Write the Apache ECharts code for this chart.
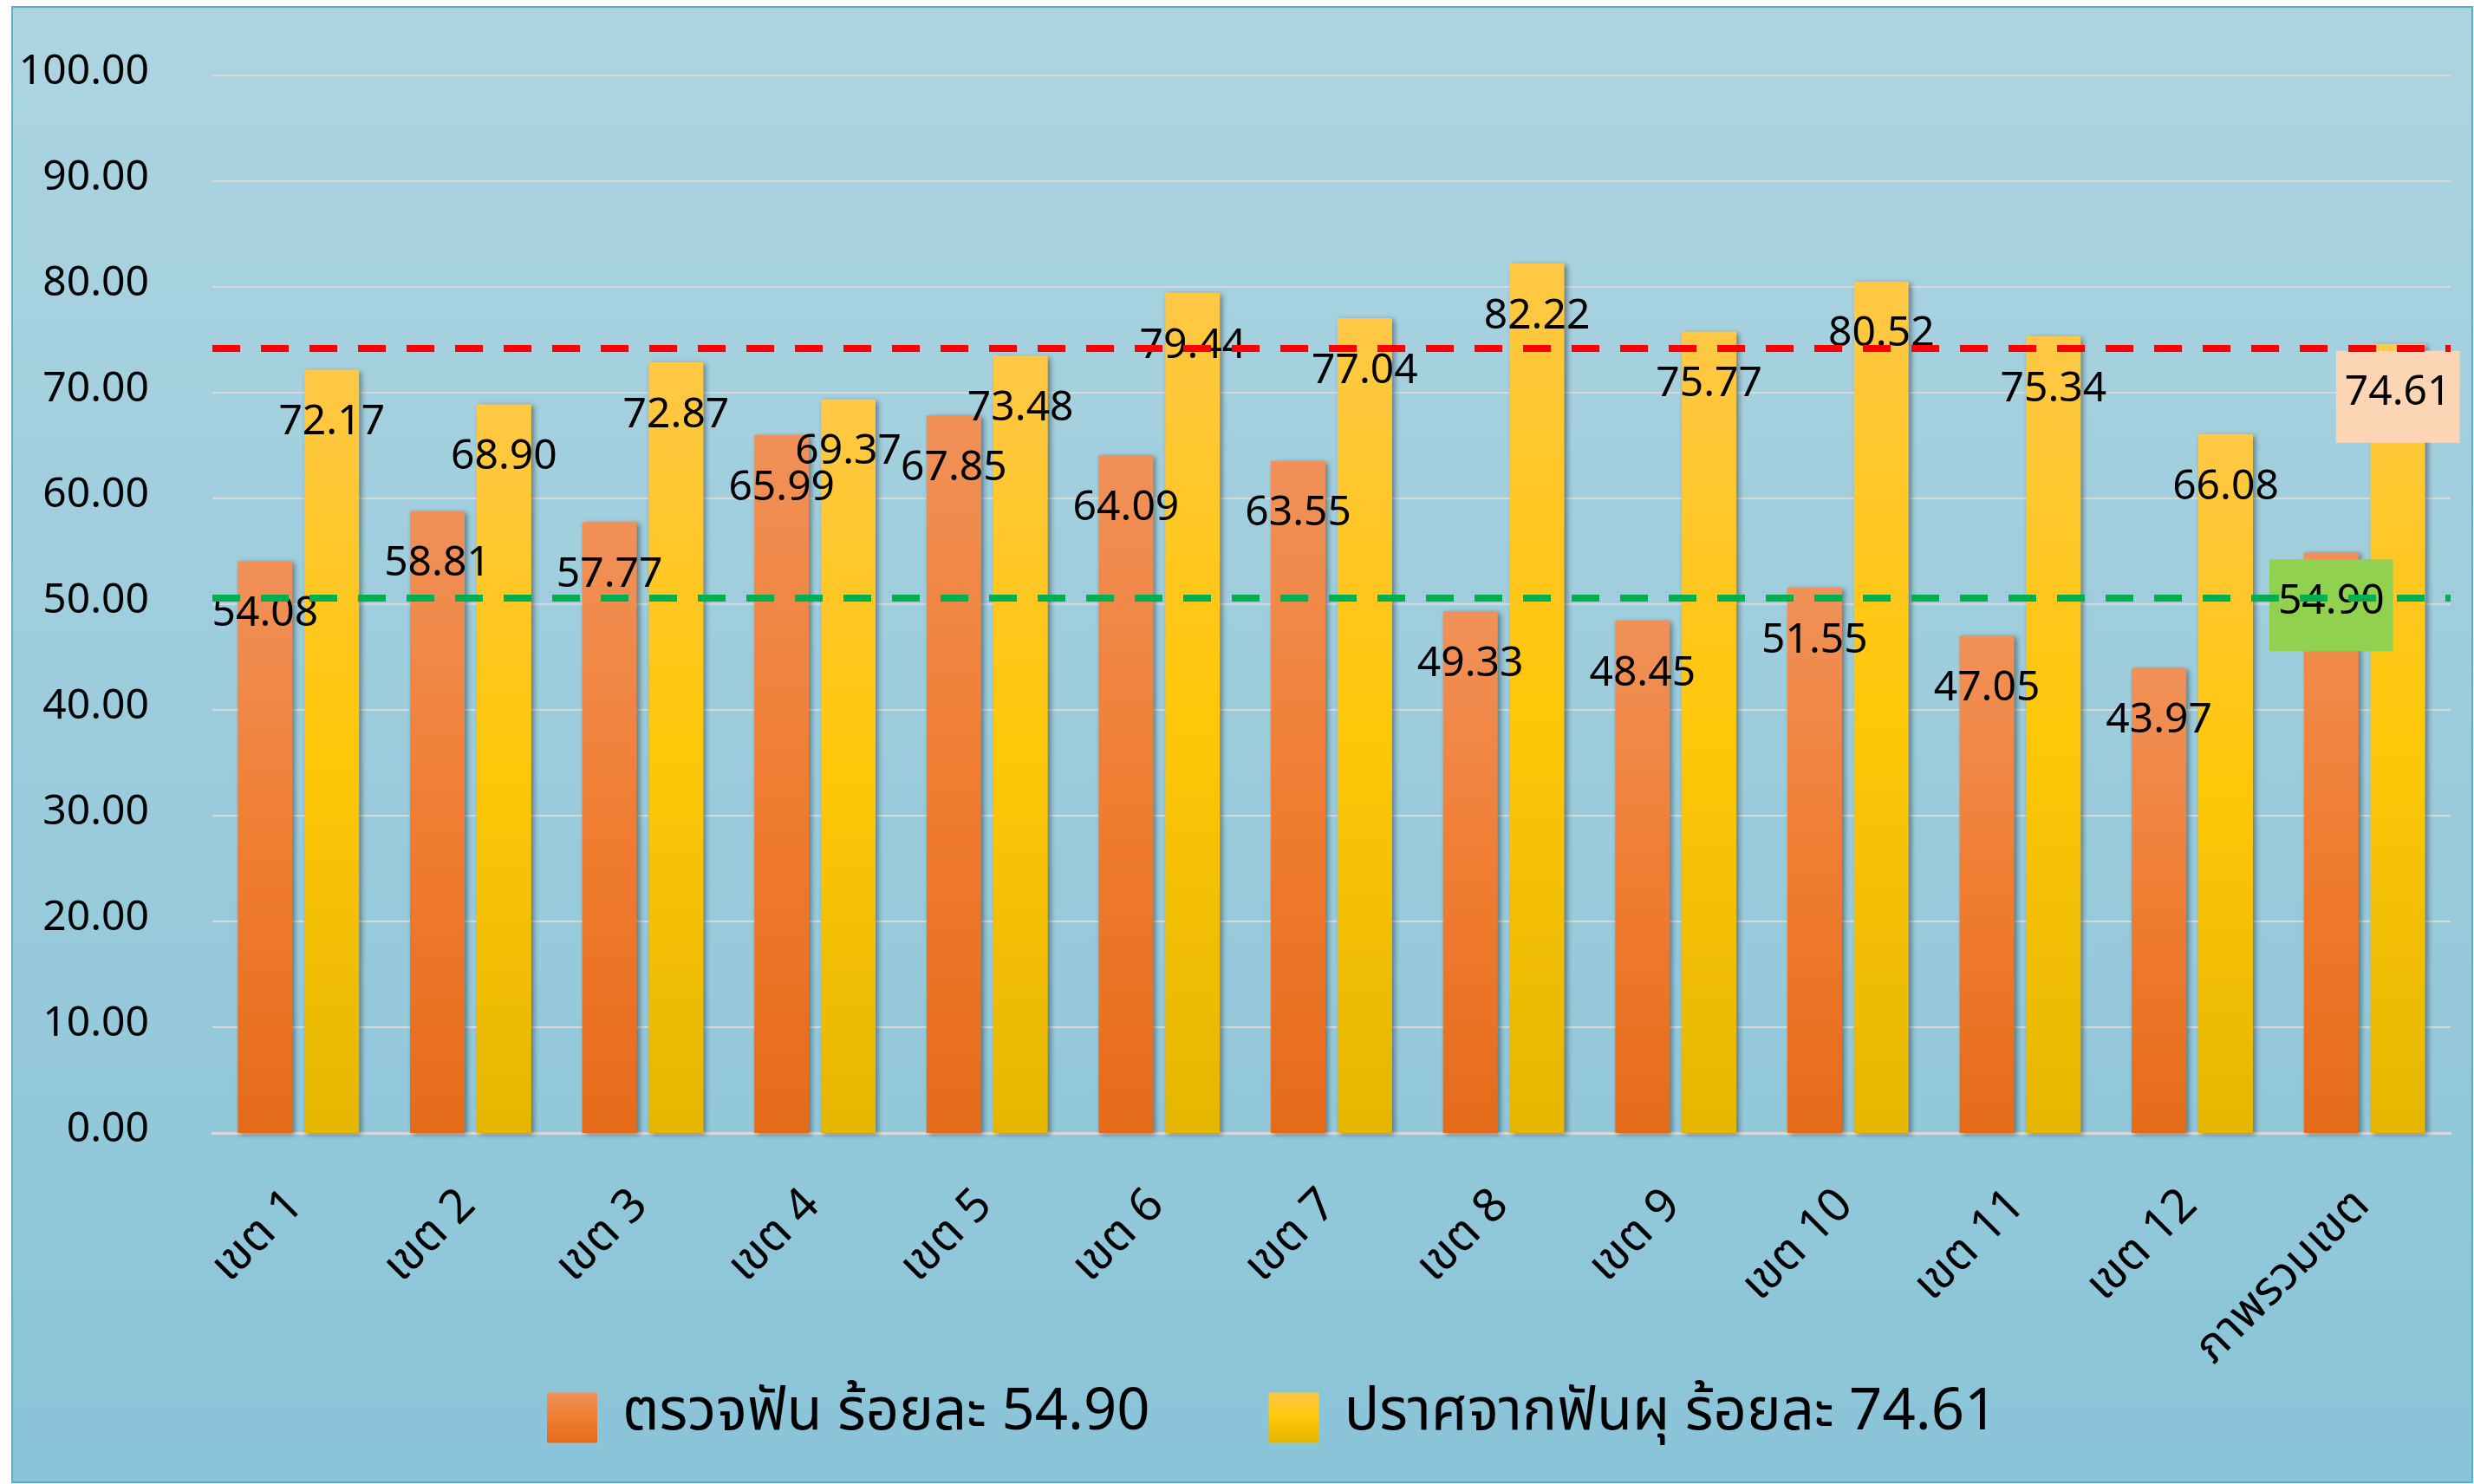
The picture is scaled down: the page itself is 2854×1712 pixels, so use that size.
<!DOCTYPE html>
<html>
<head>
<meta charset="utf-8">
<script src="https://cdn.jsdelivr.net/npm/echarts@6/dist/echarts.min.js"></script>
<style>
  html, body { margin: 0; padding: 0; background: #fff; }
  #chart { width: 2854px; height: 1712px; }
</style>
</head>
<body>
<div id="chart"></div>
<script>
const categories = [
  "เขต 1", "เขต 2", "เขต 3", "เขต 4", "เขต 5", "เขต 6", "เขต 7",
  "เขต 8", "เขต 9", "เขต 10", "เขต 11", "เขต 12", "ภาพรวมเขต"
];
const checkedTeeth = [54.08, 58.81, 57.77, 65.99, 67.85, 64.09, 63.55, 49.33, 48.45, 51.55, 47.05, 43.97, 54.9];
const cariesFree = [72.17, 68.9, 72.87, 69.37, 73.48, 79.44, 77.04, 82.22, 75.77, 80.52, 75.34, 66.08, 74.61];
const seriesNames = ["ตรวจฟัน ร้อยละ 54.90", "ปราศจากฟันผุ ร้อยละ 74.61"];
const refLines = [74.2, 50.6];

const FONT = "'Noto Sans Thai', 'Liberation Sans', sans-serif";

const grad = (c1, c2, c3) =>
  new echarts.graphic.LinearGradient(0, 0, 0, 1, [
    { offset: 0, color: c1 },
    { offset: 0.5, color: c2 },
    { offset: 1, color: c3 }
  ]);

const orangeFill = grad("#f09159", "#f07d32", "#e56b19");
const yellowFill = grad("#ffc846", "#ffc709", "#e5b600");

const barLabel = {
  show: true,
  position: "insideTop",
  distance: 41,
  color: "#000",
  fontSize: 48,
  fontFamily: FONT,
  formatter: p => p.value.toFixed(2)
};

const barShadow = {
  shadowColor: "rgba(0,0,0,0.4)",
  shadowBlur: 6,
  shadowOffsetX: 3,
  shadowOffsetY: 2
};

// the last group (ภาพรวมเขต) has boxed labels
function withLastBox(values, boxColor) {
  return values.map((v, i) => {
    if (i !== values.length - 1) return v;
    return {
      value: v,
      label: {
        backgroundColor: boxColor,
        padding: [29, 10, 29, 10],
        distance: 8
      }
    };
  });
}

const chart = echarts.init(document.getElementById("chart"));

chart.setOption({
  animation: false,
  graphic: [
    {
      type: "rect",
      z: -10,
      shape: { x: 14, y: 8, width: 2838, height: 1702 },
      style: {
        fill: new echarts.graphic.LinearGradient(0, 0, 0, 1, [
          { offset: 0, color: "#add4e1" },
          { offset: 1, color: "#8ac4d8" }
        ]),
        stroke: "#5aaec6",
        lineWidth: 2
      }
    }
  ],
  grid: {
    left: 245,
    right: 27,
    top: 87,
    bottom: 405,
    containLabel: false
  },
  legend: {
    top: 1597,
    left: 626,
    itemWidth: 58,
    itemHeight: 58,
    itemGap: 137,
    icon: "rect",
    textStyle: {
      fontSize: 67,
      fontFamily: FONT,
      color: "#000",
      padding: [0, 0, 0, 24]
    },
    data: seriesNames
  },
  xAxis: {
    type: "category",
    data: categories,
    axisTick: { show: false },
    axisLine: { lineStyle: { color: "#d9d9d9", width: 3 } },
    axisLabel: {
      rotate: 45,
      margin: 78,
      fontSize: 54,
      fontFamily: FONT,
      color: "#000",
      interval: 0
    }
  },
  yAxis: {
    type: "value",
    min: 0,
    max: 100,
    interval: 10,
    axisLine: { show: false },
    axisTick: { show: false },
    splitLine: { lineStyle: { color: "#d9d9d9", width: 2 } },
    axisLabel: {
      margin: 73,
      fontSize: 48,
      fontFamily: FONT,
      color: "#000",
      formatter: v => v.toFixed(2)
    }
  },
  series: [
    {
      name: seriesNames[0],
      type: "bar",
      barWidth: 63,
      barGap: "22%",
      data: withLastBox(checkedTeeth, "#92d050"),
      itemStyle: Object.assign({ color: orangeFill }, barShadow),
      label: barLabel,
      markLine: {
        silent: true,
        symbol: "none",
        label: { show: false },
        data: [
          { yAxis: refLines[0], lineStyle: { color: "#ff0000", width: 8, type: [32, 24] } },
          { yAxis: refLines[1], lineStyle: { color: "#00b050", width: 8, type: [32, 24] } }
        ]
      }
    },
    {
      name: seriesNames[1],
      type: "bar",
      barWidth: 63,
      barGap: "22%",
      data: withLastBox(cariesFree, "#fcd5b5"),
      itemStyle: Object.assign({ color: yellowFill }, barShadow),
      label: barLabel
    }
  ]
});
</script>
</body>
</html>
